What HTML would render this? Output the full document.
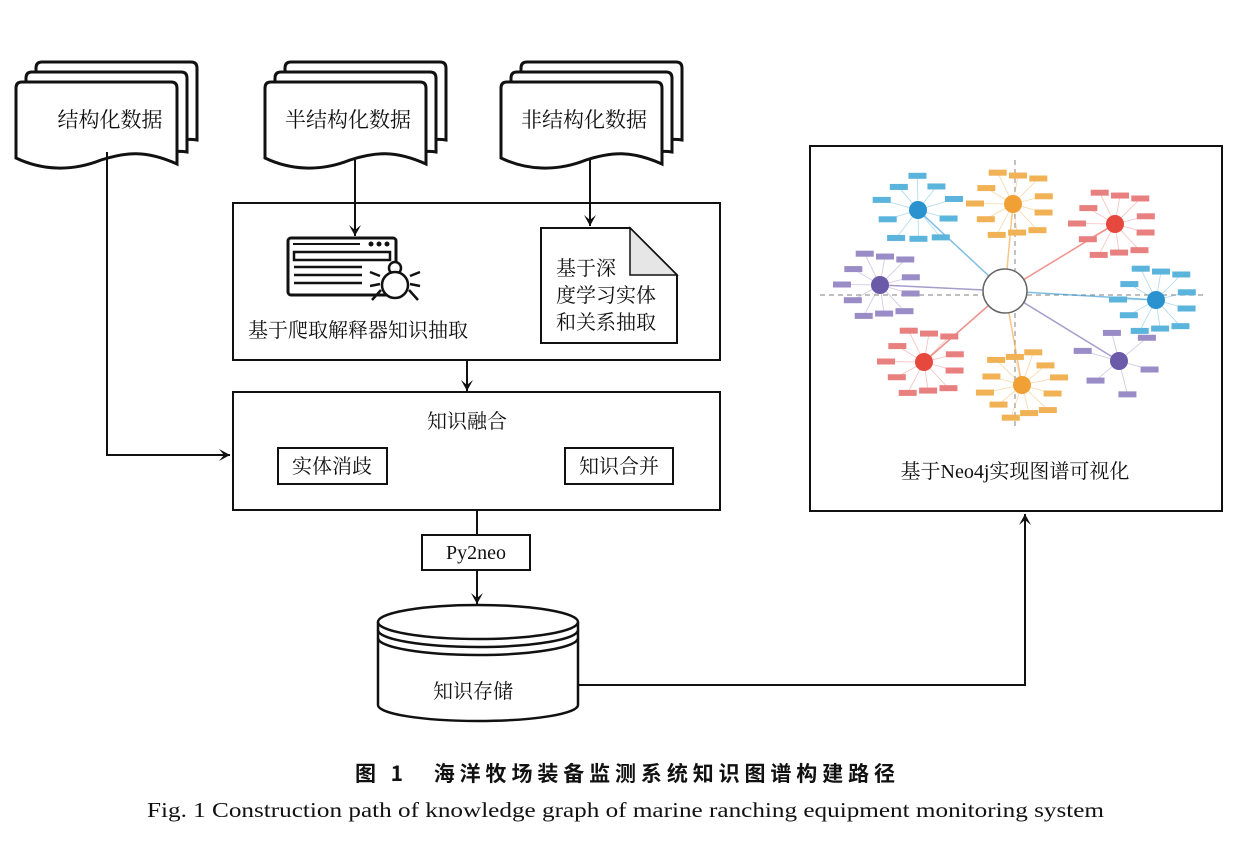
<!DOCTYPE html>
<html><head><meta charset="utf-8"><style>
html,body{margin:0;padding:0;background:#fff;}
svg{display:block;}
text{font-family:"Liberation Serif","Noto Serif CJK SC","Noto Sans CJK SC",serif;fill:#111;}
</style></head><body>
<svg width="1246" height="854" viewBox="0 0 1246 854" xmlns="http://www.w3.org/2000/svg">
<defs>
<marker id="ah" markerWidth="14" markerHeight="14" refX="11" refY="7" orient="auto" markerUnits="userSpaceOnUse">
<path d="M0,1 L11,7 L0,13 L5,7 Z" fill="#111"/>
</marker>
<g id="doc">
<path d="M20,-20 Q20,-26 26,-26 L175,-26 Q181,-26 181,-20 L181,52 Q170,50 161,54 L161,-6 L20,-6 Z" fill="#fff" stroke="#111" stroke-width="3"/>
<path d="M10,-10 Q10,-16 16,-16 L165,-16 Q171,-16 171,-10 L171,64 Q160,62 151,66 L151,4 L10,4 Z" fill="#fff" stroke="#111" stroke-width="3"/>
<path d="M0,0 Q0,-6 6,-6 L155,-6 Q161,-6 161,0 L161,76 C130,62 110,64 85,72 C55,84 25,82 0,70 Z" fill="#fff" stroke="#111" stroke-width="3"/>
</g>
</defs>

<use href="#doc" x="16" y="88"/>
<text x="110" y="127" font-size="21" text-anchor="middle">结构化数据</text>
<use href="#doc" x="265" y="88"/>
<text x="348" y="127" font-size="21" text-anchor="middle">半结构化数据</text>
<use href="#doc" x="501" y="88"/>
<text x="584" y="127" font-size="21" text-anchor="middle">非结构化数据</text>

<g stroke="#111" stroke-width="2" fill="none">
<path d="M107,152 L107,455 L230,455" marker-end="url(#ah)"/>
<path d="M355,160 L355,236" marker-end="url(#ah)"/>
<path d="M590,158 L590,226" marker-end="url(#ah)"/>
<path d="M467,361 L467,391" marker-end="url(#ah)"/>
<path d="M477,510 L477,535"/>
<path d="M477,570 L477,604" marker-end="url(#ah)"/>
<path d="M578,685 L1025,685 L1025,514" marker-end="url(#ah)"/>
</g>

<rect x="233" y="203" width="487" height="157" fill="none" stroke="#111" stroke-width="2"/>
<g stroke="#111" fill="none">
<rect x="288" y="238" width="108" height="57" rx="3" stroke-width="3"/>
<line x1="293" y1="244" x2="360" y2="244" stroke-width="2"/>
<rect x="294" y="252" width="96" height="8" stroke-width="2.5"/>
<line x1="294" y1="267" x2="362" y2="267" stroke-width="2.5"/>
<line x1="294" y1="275" x2="362" y2="275" stroke-width="2.5"/>
<line x1="294" y1="283" x2="362" y2="283" stroke-width="2.5"/>
</g>
<circle cx="371" cy="244" r="2.5" fill="#111"/><circle cx="379" cy="244" r="2.5" fill="#111"/><circle cx="387" cy="244" r="2.5" fill="#111"/>
<g stroke="#111" stroke-width="2.5" fill="#fff">
<path d="M370,272 L380,276 M370,286 L380,284 M372,300 L381,290 M420,272 L410,276 M420,286 L410,284 M418,300 L409,290" fill="none"/>
<circle cx="395" cy="268" r="6"/>
<ellipse cx="395" cy="285" rx="13" ry="13"/>
</g>
<text x="248" y="337" font-size="20">基于爬取解释器知识抽取</text>
<path d="M541,228 L630,228 L677,275 L677,343 L541,343 Z" fill="#fff" stroke="#111" stroke-width="2"/>
<path d="M630,228 L630,275 L677,275 Z" fill="#e6e6e6" stroke="#111" stroke-width="1.5"/>
<text x="556" y="275" font-size="20">基于深</text>
<text x="556" y="302" font-size="20">度学习实体</text>
<text x="556" y="329" font-size="20">和关系抽取</text>

<rect x="233" y="392" width="487" height="118" fill="none" stroke="#111" stroke-width="2"/>
<text x="467" y="428" font-size="20" text-anchor="middle">知识融合</text>
<rect x="278" y="448" width="109" height="36" fill="none" stroke="#111" stroke-width="2"/>
<text x="332" y="473" font-size="20" text-anchor="middle">实体消歧</text>
<rect x="565" y="448" width="108" height="36" fill="none" stroke="#111" stroke-width="2"/>
<text x="619" y="473" font-size="20" text-anchor="middle">知识合并</text>

<rect x="422" y="535" width="108" height="35" fill="#fff" stroke="#111" stroke-width="2"/>
<text x="476" y="559" font-size="20" text-anchor="middle">Py2neo</text>

<g stroke="#111" stroke-width="2.5" fill="#fff">
<path d="M378,622 L378,705 A100,16 0 0 0 578,705 L578,622"/>
<ellipse cx="478" cy="622" rx="100" ry="17"/>
<path d="M378,630 A100,17 0 0 0 578,630" fill="none"/>
<path d="M378,638 A100,17 0 0 0 578,638" fill="none"/>
</g>
<text x="473" y="698" font-size="20" text-anchor="middle">知识存储</text>

<rect x="810" y="146" width="412" height="365" fill="#fff" stroke="#111" stroke-width="2"/>
<g id="graph"></g>
<text x="1015" y="478" font-size="20" text-anchor="middle">基于Neo4j实现图谱可视化</text>

<text x="355" y="781" font-size="21" font-weight="bold" textLength="540" lengthAdjust="spacing" style="font-family:'Noto Sans CJK SC',sans-serif">图 1　海洋牧场装备监测系统知识图谱构建路径</text>
<text x="147" y="817" font-size="21" textLength="957" lengthAdjust="spacingAndGlyphs">Fig. 1    Construction path of knowledge graph of marine ranching equipment monitoring system</text>
</svg>
<script>
(function(){
var g=document.getElementById('graph'),NS='http://www.w3.org/2000/svg';
function el(t,a){var e=document.createElementNS(NS,t);for(var k in a)e.setAttribute(k,a[k]);g.appendChild(e);return e;}
var C=[1005,291];
el('line',{x1:820,y1:295,x2:1205,y2:295,stroke:'#999','stroke-dasharray':'5,4','stroke-width':1.2});
el('line',{x1:1015,y1:160,x2:1015,y2:430,stroke:'#999','stroke-dasharray':'5,4','stroke-width':1.2});
var cl=[[918,210,'#2a93cf','#5ab4dc',10],[1013,204,'#f1a035','#f0b254',11],[1115,224,'#e6483d','#e98080',11],[1156,300,'#2a93cf','#5ab4dc',11],[1119,361,'#6a5aa8','#9a8cc6',6],[1022,385,'#f1a035','#f0b254',12],[924,362,'#e6483d','#e98080',11],[880,285,'#6a5aa8','#9a8cc6',11]];
cl.forEach(function(c){el('line',{x1:C[0],y1:C[1],x2:c[0],y2:c[1],stroke:c[2],'stroke-opacity':0.6,'stroke-width':1.5});});
cl.forEach(function(c){
 var n=c[4];
 for(var i=0;i<n;i++){var a=i/n*Math.PI*2+0.3,r=i%2?38:32;var x=c[0]+Math.cos(a)*r,y=c[1]+Math.sin(a)*r*0.9;
  el('line',{x1:c[0],y1:c[1],x2:x,y2:y,stroke:c[3],'stroke-opacity':0.5,'stroke-width':0.8});
  el('rect',{x:x-9,y:y-3,width:18,height:6,fill:c[3]});}
 el('circle',{cx:c[0],cy:c[1],r:9,fill:c[2]});
});
el('circle',{cx:C[0],cy:C[1],r:22,fill:'#fff',stroke:'#666','stroke-width':1.5});
})();
</script>
</body></html>
